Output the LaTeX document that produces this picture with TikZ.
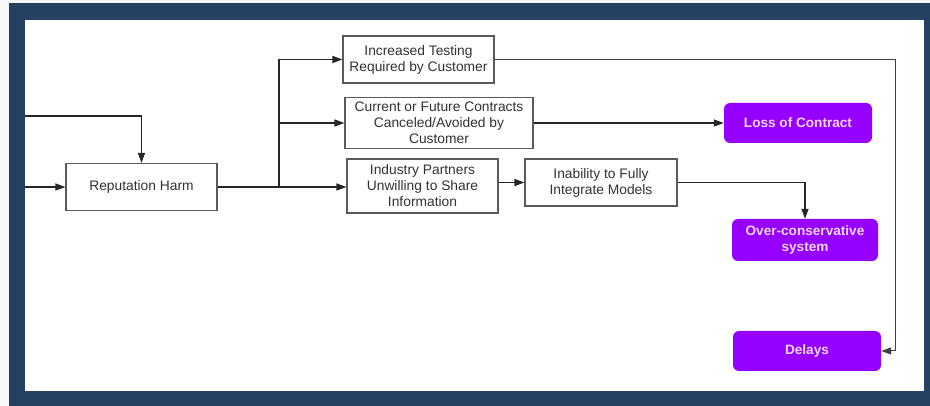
\documentclass[tikz,border=0pt]{standalone}
\usepackage{fontspec}
\setmainfont{Liberation Sans}
\usetikzlibrary{arrows,arrows.meta}
\usetikzlibrary{calc}
\definecolor{rahmen}{RGB}{38, 64, 97}
\definecolor{violett}{RGB}{150, 0, 255}
\definecolor{violett-text}{RGB}{242, 214, 255}
\definecolor{kante}{RGB}{90, 90, 90}
\definecolor{schrift}{RGB}{50, 50, 50}

\begin{document}
\begin{tikzpicture}[x=1pt, y=-1pt, >={Triangle[length=10pt,width=7pt]},
	effect/.style={draw=kante, line width=1.1pt, fill=white, text=schrift, align=center, inner sep=2pt,
		font=\fontsize{13.8}{16}\selectfont},
	outcome/.style={fill=violett, rounded corners=6pt, text=violett-text, align=center, inner sep=2pt,
		font=\fontsize{13.6}{16}\selectfont\bfseries},
	link/.style={line width=1.3pt, black!85}]

	% frame
	\useasboundingbox (0,0) rectangle (930,406);
	\fill[black!3] (0,0) rectangle (930,406);
	\fill[rahmen] (9,3) rectangle (930,406);
	\fill[white] (25,20) rectangle (924,391);

	\node[effect, minimum width=151pt, minimum height=47pt] (rep) at (141.5,187) {Reputation Harm};
	\node[effect, minimum width=151pt, minimum height=47pt] (test) at (418.5,59.5) {Increased Testing\\Required by Customer};
	\node[effect, minimum width=188pt, minimum height=51pt] (cancel) at (439,123) {Current or Future Contracts\\Canceled/Avoided by\\Customer};
	\node[effect, minimum width=151pt, minimum height=54pt] (partner) at (422.5,186) {Industry Partners\\Unwilling to Share\\Information};
	\node[effect, minimum width=152pt, minimum height=47pt] (integ) at (601,182.5) {Inability to Fully\\Integrate Models};

	\node[outcome, minimum width=148pt, minimum height=40pt] (loss) at (798,123) {Loss of Contract};
	\node[outcome, minimum width=146pt, minimum height=42pt] (over) at (805,240) {Over-conservative\\system};
	\node[outcome, minimum width=148pt, minimum height=40pt] (delays) at (807,351) {Delays};

	\coordinate (in1) at (25,187);
	\coordinate (in2) at (25,116);
	\coordinate (branch) at (279,187);
	\coordinate (turn) at (895,59.5);

	\draw[link,->] (in1) -- (rep.west);
	\draw[link,->] (in2) -| (rep.north);

	\draw[link, line width=1.8pt] (rep.east) -- (branch);
	\draw[link,->, line width=1.6pt] (branch) |- (test.west);
	\draw[link,->] (branch |- cancel.west) -- (cancel.west);
	\draw[link,->] (branch) -- (branch -| partner.west);
	\draw[link,->] (partner.east |- integ) -- (integ.west);

	\draw[link,->] (cancel.east) -- (loss.west);
	\draw[link,->] (integ.east) -| (over.north);
	\draw[link,->, line width=1pt, black!75] (test.east) -- (turn) |- (delays.east);

\end{tikzpicture}
\end{document}
